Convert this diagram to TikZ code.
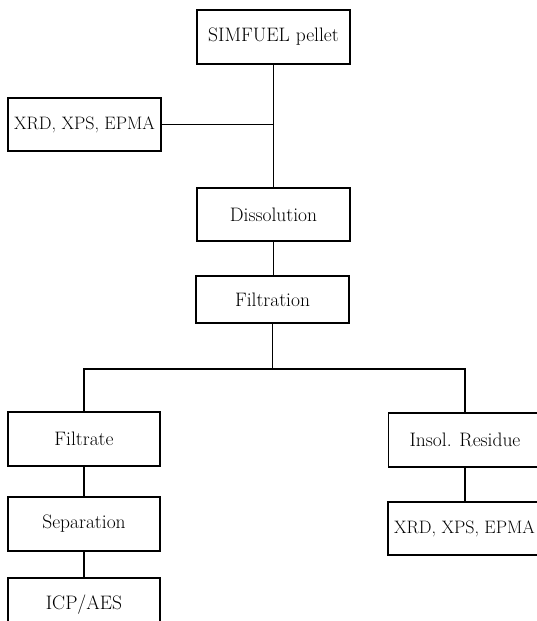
\documentclass[tikz,border=0pt]{standalone}
\begin{document}
\begin{tikzpicture}[x=1pt,y=-1pt,
  box/.style={draw=black, line width=1.3pt, rectangle, minimum width=153pt, minimum height=54pt, inner sep=0pt, font=\fontsize{19.5}{22}\selectfont},
  small/.style={font=\fontsize{18}{21}\selectfont},
  conn/.style={draw=black, line width=1.3pt}]
\useasboundingbox[fill=white] (0,0) rectangle (536,621);
\node[box] (pellet) at (273.5,37) {SIMFUEL pellet};
\node[box, small, minimum height=53pt] (xrdA) at (84.5,124.5) {XRD, XPS, EPMA};
\node[box, minimum height=53pt] (diss) at (273.5,214.5) {Dissolution};
\node[box, minimum height=47pt] (filt) at (272.5,299.5) {Filtration};
\node[box, minimum width=152pt] (filtrate) at (84,439) {Filtrate};
\node[box, minimum width=152pt] (sep) at (84,524) {Separation};
\node[box, minimum width=152pt] (icp) at (84,605) {ICP/AES};
\node[box] (insol) at (465,440) {Insol. Residue};
\node[box, small, minimum height=53pt] (xrdB) at (464.5,528.5) {XRD, XPS, EPMA};
\coordinate (split) at (272.5,369);
\draw[conn] (pellet.south) -- (diss.north);
\draw[conn] (xrdA.east) -- (xrdA.east -| pellet.south);
\draw[conn] (diss.south) -- (diss.south |- filt.north);
\draw[conn] (filt.south) -- (split);
\draw[conn] (filtrate.north) |- (split) -| (insol.north);
\draw[conn] (filtrate.south) -- (sep.north);
\draw[conn] (sep.south) -- (icp.north);
\draw[conn] (insol.south) -- (insol.south |- xrdB.north);
\end{tikzpicture}
\end{document}
